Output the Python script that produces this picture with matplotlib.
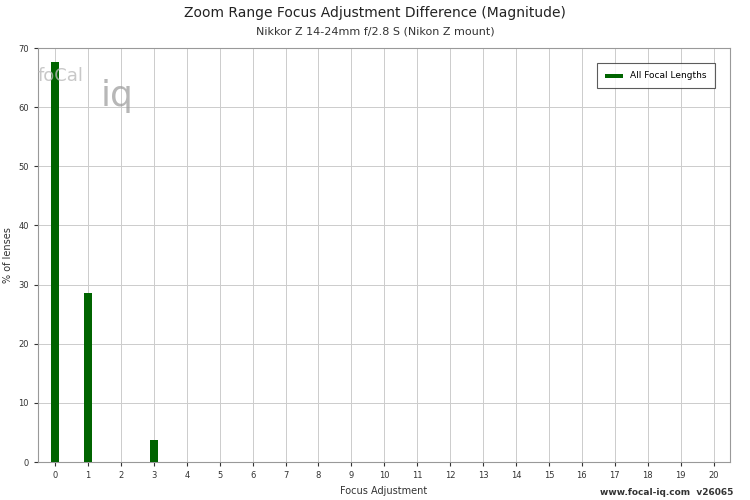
import matplotlib.pyplot as plt

focus_adj = [0, 1, 3]
pct_lenses = [67.7, 28.6, 3.7]
x_ticks = list(range(0, 21))

fig = plt.figure(figsize=(7.5, 5), dpi=100)
ax = fig.add_axes([38 / 750, 38 / 500, 692 / 750, 414 / 500])

ax.bar(focus_adj, pct_lenses, width=0.25, color='#006400', label='All Focal Lengths', zorder=3)

ax.set_xlim(-0.52, 20.5)
ax.set_ylim(0, 70)
ax.set_xticks(x_ticks)
ax.set_yticks(range(0, 71, 10))
ax.tick_params(labelsize=6, colors='#333333', length=3)
ax.grid(True, color='#cccccc', linewidth=0.7, zorder=0)
for s in ax.spines.values():
    s.set_color('#999999')
    s.set_linewidth(0.8)

ax.set_xlabel('Focus Adjustment', fontsize=7, color='#333333')
ax.set_ylabel('% of lenses', fontsize=7, color='#333333')

fig.text(0.5, 0.965, 'Zoom Range Focus Adjustment Difference (Magnitude)', ha='center', fontsize=10, color='#222222')
fig.text(0.5, 0.93, 'Nikkor Z 14-24mm f/2.8 S (Nikon Z mount)', ha='center', fontsize=8, color='#333333')
fig.text(0.978, 0.01, 'www.focal-iq.com  v26065', ha='right', fontsize=6.5, fontweight='bold', color='#333333')

# faint watermark logo
ax.text(0.0, 0.92, 'foCal', transform=ax.transAxes, fontsize=13, color='#bbbbbb', alpha=0.8, zorder=4)
ax.text(0.09, 0.86, 'iq', transform=ax.transAxes, fontsize=26, color='#999999', alpha=0.7, zorder=4)

leg = ax.legend(loc='upper right', fontsize=6.5, fancybox=False, edgecolor='#333333',
                borderpad=0.9, handlelength=2, bbox_to_anchor=(0.985, 0.975))
leg.get_frame().set_linewidth(0.8)
for h in leg.legend_handles:
    h.set_height(3)

fig.savefig('out.png', dpi=100)
